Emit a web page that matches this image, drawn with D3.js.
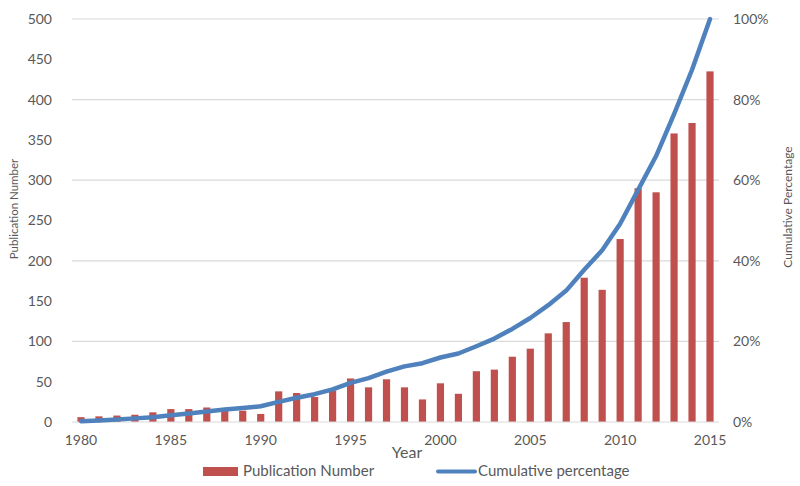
<!DOCTYPE html>
<html><head><meta charset="utf-8">
<script src="https://cdn.jsdelivr.net/npm/d3@7"></script>
<style>
html,body{margin:0;padding:0;background:#fff;}
svg{display:block;font-family:Lato,"Open Sans",sans-serif;}
</style></head>
<body>
<svg id="chart" width="800" height="486"></svg>
<script>
const years = [1980,1981,1982,1983,1984,1985,1986,1987,1988,1989,1990,1991,1992,1993,1994,1995,1996,1997,1998,1999,2000,2001,2002,2003,2004,2005,2006,2007,2008,2009,2010,2011,2012,2013,2014,2015];
const publications = [6,7,8,9,12,16,16,18,16,14,10,38,36,31,39,54,43,53,43,28,48,35,63,65,81,91,110,124,179,164,227,290,285,358,371,435];
const cumulativePct = [0.2,0.4,0.6,0.9,1.2,1.7,2.1,2.6,3.1,3.5,3.9,5.0,6.0,6.9,8.1,9.7,10.9,12.5,13.8,14.6,16.0,17.0,18.8,20.7,23.1,25.8,29.0,32.6,37.8,42.6,49.2,57.6,66.0,76.4,87.4,100];
const leftTicks = [0,50,100,150,200,250,300,350,400,450,500];
const rightTicks = [0,20,40,60,80,100];
const xLabelYears = [1980,1985,1990,1995,2000,2005,2010,2015];
const seriesNames = ["Publication Number","Cumulative percentage"];

const svg = d3.select("#chart");
const L = 72, R = 719, T = 19, B = 422;
const textColor = "#595959";

const x = d3.scaleBand().domain(years).range([L, R]).paddingInner(0.6).paddingOuter(0.3);
const yL = d3.scaleLinear().domain([0, 500]).range([B, T]);
const yR = d3.scaleLinear().domain([0, 100]).range([B, T]);

// gridlines (right axis ticks)
svg.append("g").selectAll("line").data(rightTicks.filter(d => d > 0)).join("line")
  .attr("x1", L).attr("x2", R)
  .attr("y1", d => yR(d)).attr("y2", d => yR(d))
  .attr("stroke", "#d9d9d9").attr("stroke-width", 1.2);

// bars
svg.append("g").selectAll("rect").data(years).join("rect")
  .attr("x", d => x(d))
  .attr("width", x.bandwidth())
  .attr("y", (d, i) => yL(publications[i]))
  .attr("height", (d, i) => B - yL(publications[i]))
  .attr("fill", "#c0504d");

// baseline
svg.append("line").attr("x1", L).attr("x2", R).attr("y1", B).attr("y2", B)
  .attr("stroke", "#d9d9d9").attr("stroke-width", 1.2);

// line
const cx = d => x(d) + x.bandwidth() / 2;
const line = d3.line().x(d => cx(d)).y((d, i) => yR(cumulativePct[i]));
svg.append("path").datum(years)
  .attr("d", line)
  .attr("fill", "none").attr("stroke", "#4f81bd")
  .attr("stroke-width", 4.5).attr("stroke-linejoin", "round").attr("stroke-linecap", "round");

// left axis
const leftAxis = d3.axisLeft(yL).tickValues(leftTicks).tickSize(0).tickPadding(0);
const gL = svg.append("g").attr("transform", `translate(52,0)`).call(leftAxis);
gL.select(".domain").remove();
gL.selectAll("text").attr("fill", textColor).style("font-size", "14px").style("font-family", "Lato");

// right axis
const rightAxis = d3.axisRight(yR).tickValues(rightTicks).tickSize(0).tickPadding(0).tickFormat(d => d + "%");
const gR = svg.append("g").attr("transform", `translate(733,0)`).call(rightAxis);
gR.select(".domain").remove();
gR.selectAll("text").attr("fill", textColor).style("font-size", "14px").style("font-family", "Lato");

// bottom axis
const bottomAxis = d3.axisBottom(x).tickValues(xLabelYears).tickSize(0).tickPadding(0);
const gB = svg.append("g").attr("transform", `translate(0,${B + 13})`).call(bottomAxis);
gB.select(".domain").remove();
gB.selectAll("text").attr("fill", textColor).style("font-size", "14px").style("font-family", "Lato");

// axis titles
svg.append("text").attr("x", 407).attr("y", 458).attr("text-anchor", "middle")
  .attr("fill", textColor).style("font-size", "16px").text("Year");
svg.append("text").attr("transform", "translate(18,209) rotate(-90)").attr("text-anchor", "middle")
  .attr("fill", textColor).style("font-size", "11.5px").text("Publication Number");
svg.append("text").attr("transform", "translate(792,207) rotate(-90)").attr("text-anchor", "middle")
  .attr("fill", textColor).style("font-size", "12px").text("Cumulative Percentage");

// legend
const lg = svg.append("g");
lg.append("rect").attr("x", 203).attr("y", 467).attr("width", 35).attr("height", 9).attr("fill", "#c0504d");
lg.append("text").attr("x", 243).attr("y", 476).attr("fill", textColor).style("font-size", "15px").text(seriesNames[0]);
lg.append("line").attr("x1", 438).attr("x2", 475).attr("y1", 471.5).attr("y2", 471.5)
  .attr("stroke", "#4f81bd").attr("stroke-width", 4).attr("stroke-linecap", "round");
lg.append("text").attr("x", 478).attr("y", 476).attr("fill", textColor).style("font-size", "15px").text(seriesNames[1]);
</script>
</body></html>
